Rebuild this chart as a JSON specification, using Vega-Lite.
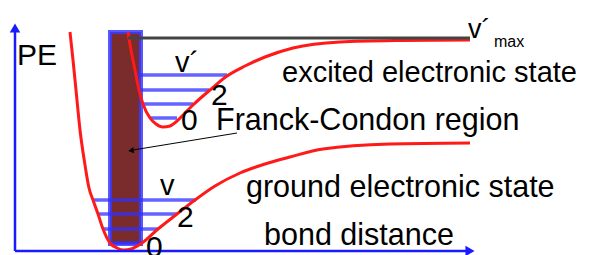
{
  "$schema": "https://vega.github.io/schema/vega-lite/v6.json",
  "width": 597,
  "height": 255,
  "padding": 0,
  "autosize": "none",
  "background": "white",
  "config": {"view": {"stroke": null}, "font": "Liberation Sans"},
  "encoding": {
    "x": {"type": "quantitative", "scale": {"domain": [0, 597], "nice": false, "zero": false}, "axis": null},
    "y": {"type": "quantitative", "scale": {"domain": [0, 255], "nice": false, "zero": false, "reverse": true}, "axis": null}
  },
  "layer": [
    {
      "data": {"values": [{"x1": 110, "x2": 141, "y1": 32, "y2": 244}]},
      "mark": {"type": "rect", "fill": "#7a2c2c", "stroke": "#3a3aff", "strokeWidth": 4, "strokeOpacity": 0.85},
      "encoding": {"x": {"field": "x1"}, "x2": {"field": "x2"}, "y": {"field": "y1"}, "y2": {"field": "y2"}}
    },
    {
      "data": {"values": [
        {"x1": 135, "x2": 227, "y": 75},
        {"x1": 140, "x2": 209, "y": 90},
        {"x1": 142, "x2": 193, "y": 104},
        {"x1": 150, "x2": 177, "y": 118},
        {"x1": 93, "x2": 196, "y": 200},
        {"x1": 98, "x2": 177, "y": 214},
        {"x1": 103, "x2": 158, "y": 229},
        {"x1": 110, "x2": 142, "y": 243}
      ]},
      "mark": {"type": "rule", "color": "#3030ff", "strokeWidth": 3.5, "opacity": 0.75},
      "encoding": {"x": {"field": "x1"}, "x2": {"field": "x2"}, "y": {"field": "y"}}
    },
    {
      "data": {"values": [
        {"c": "e", "x": 128, "y": 32}, {"c": "e", "x": 131, "y": 50}, {"c": "e", "x": 134, "y": 65},
        {"c": "e", "x": 136, "y": 75}, {"c": "e", "x": 139, "y": 90}, {"c": "e", "x": 143, "y": 104},
        {"c": "e", "x": 150, "y": 118}, {"c": "e", "x": 156, "y": 124}, {"c": "e", "x": 163, "y": 127},
        {"c": "e", "x": 170, "y": 126}, {"c": "e", "x": 177, "y": 121}, {"c": "e", "x": 185, "y": 113},
        {"c": "e", "x": 193, "y": 105}, {"c": "e", "x": 210, "y": 90}, {"c": "e", "x": 227, "y": 76},
        {"c": "e", "x": 245, "y": 66}, {"c": "e", "x": 265, "y": 57}, {"c": "e", "x": 293, "y": 48},
        {"c": "e", "x": 340, "y": 42}, {"c": "e", "x": 400, "y": 40.5}, {"c": "e", "x": 470, "y": 40},
        {"c": "g", "x": 70, "y": 32}, {"c": "g", "x": 73, "y": 60}, {"c": "g", "x": 76, "y": 90},
        {"c": "g", "x": 80, "y": 130}, {"c": "g", "x": 85, "y": 165}, {"c": "g", "x": 89, "y": 188},
        {"c": "g", "x": 93, "y": 200}, {"c": "g", "x": 98, "y": 214}, {"c": "g", "x": 103, "y": 229},
        {"c": "g", "x": 110, "y": 243}, {"c": "g", "x": 117, "y": 248}, {"c": "g", "x": 124, "y": 250},
        {"c": "g", "x": 131, "y": 249}, {"c": "g", "x": 142, "y": 243}, {"c": "g", "x": 158, "y": 229},
        {"c": "g", "x": 177, "y": 214}, {"c": "g", "x": 195, "y": 200}, {"c": "g", "x": 215, "y": 186},
        {"c": "g", "x": 240, "y": 173}, {"c": "g", "x": 265, "y": 164}, {"c": "g", "x": 290, "y": 157},
        {"c": "g", "x": 323, "y": 149}, {"c": "g", "x": 390, "y": 144}, {"c": "g", "x": 470, "y": 143}
      ]},
      "mark": {"type": "line", "color": "#ff1a1a", "strokeWidth": 3, "interpolate": "monotone"},
      "encoding": {"x": {"field": "x"}, "y": {"field": "y"}, "detail": {"field": "c"}}
    },
    {
      "data": {"values": [{"x1": 128, "x2": 470, "y": 38}]},
      "mark": {"type": "rule", "color": "#444444", "strokeWidth": 3},
      "encoding": {"x": {"field": "x1"}, "x2": {"field": "x2"}, "y": {"field": "y"}}
    },
    {
      "data": {"values": [
        {"x1": 15, "x2": 15, "y1": 30, "y2": 251},
        {"x1": 15, "x2": 468, "y1": 251, "y2": 251}
      ]},
      "mark": {"type": "rule", "color": "#1a1aff", "strokeWidth": 2.5},
      "encoding": {"x": {"field": "x1"}, "x2": {"field": "x2"}, "y": {"field": "y1"}, "y2": {"field": "y2"}}
    },
    {
      "data": {"values": [
        {"x": 15, "y": 28, "s": "triangle-up"},
        {"x": 470, "y": 251, "s": "triangle-right"}
      ]},
      "mark": {"type": "point", "filled": true, "color": "#1a1aff", "size": 110, "opacity": 1},
      "encoding": {"x": {"field": "x"}, "y": {"field": "y"}, "shape": {"field": "s", "type": "nominal", "scale": null}}
    },
    {
      "data": {"values": [{"x1": 237, "x2": 133, "y1": 133, "y2": 150}]},
      "mark": {"type": "rule", "color": "black", "strokeWidth": 1},
      "encoding": {"x": {"field": "x1"}, "x2": {"field": "x2"}, "y": {"field": "y1"}, "y2": {"field": "y2"}}
    },
    {
      "data": {"values": [{"x": 131, "y": 150.5}]},
      "mark": {"type": "point", "filled": true, "color": "black", "size": 40, "shape": "triangle-left", "angle": 351, "opacity": 1},
      "encoding": {"x": {"field": "x"}, "y": {"field": "y"}}
    },
    {
      "data": {"values": [
        {"x": 17, "y": 65, "t": "PE", "sz": 30, "st": "normal"},
        {"x": 282, "y": 82, "t": "excited electronic state", "sz": 29, "st": "normal"},
        {"x": 216, "y": 130, "t": "Franck-Condon region", "sz": 30.5, "st": "normal"},
        {"x": 246, "y": 197, "t": "ground electronic state", "sz": 30.5, "st": "normal"},
        {"x": 264, "y": 245, "t": "bond distance", "sz": 30.5, "st": "normal"},
        {"x": 211, "y": 105, "t": "2", "sz": 30, "st": "normal"},
        {"x": 181, "y": 130, "t": "0", "sz": 30, "st": "normal"},
        {"x": 177, "y": 227, "t": "2", "sz": 30, "st": "normal"},
        {"x": 146, "y": 257, "t": "0", "sz": 30, "st": "normal"},
        {"x": 175, "y": 72, "t": "v´", "sz": 29, "st": "italic"},
        {"x": 160, "y": 195, "t": "v", "sz": 29, "st": "italic"},
        {"x": 468, "y": 38, "t": "v´", "sz": 27, "st": "italic"},
        {"x": 494, "y": 47, "t": "max", "sz": 16, "st": "normal"}
      ]},
      "mark": {"type": "text", "align": "left", "baseline": "alphabetic", "color": "black", "font": "Liberation Sans"},
      "encoding": {
        "x": {"field": "x"},
        "y": {"field": "y"},
        "text": {"field": "t"},
        "size": {"field": "sz", "type": "quantitative", "scale": null},
        "fontStyle": {"field": "st", "type": "nominal", "scale": null}
      }
    }
  ]
}
